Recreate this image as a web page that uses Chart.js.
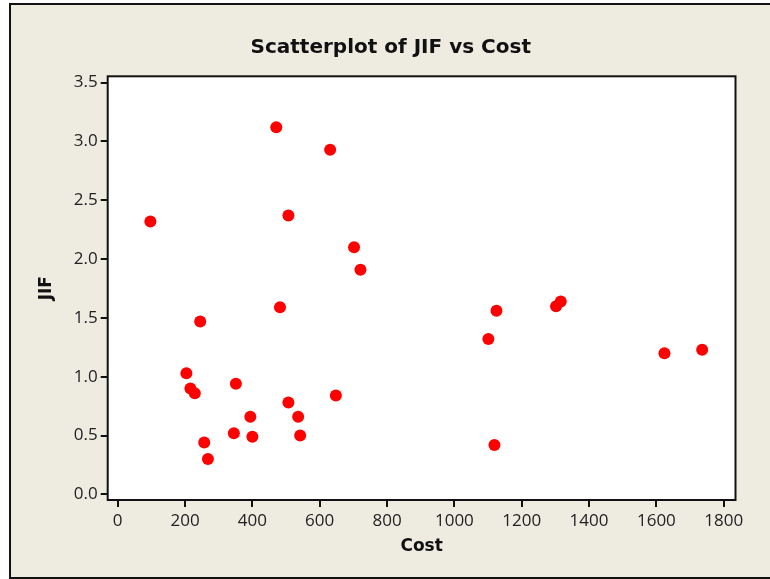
<!DOCTYPE html>
<html>
<head>
<meta charset="utf-8">
<title>Scatterplot of JIF vs Cost</title>
<script src="https://cdn.jsdelivr.net/npm/chart.js@4.4.1/dist/chart.umd.min.js"></script>
<style>
  html, body { margin: 0; padding: 0; background: #fff; overflow: hidden; }
  #panel {
    position: absolute; left: 9px; top: 3px;
    width: 764px; height: 576px; box-sizing: border-box;
    border: 2px solid #111; background: #eeebe0;
  }
  #chart { position: absolute; left: 0; top: 0; }
</style>
</head>
<body>
<div id="panel"></div>
<canvas id="chart" width="770" height="579"></canvas>
<script>
// cost and journal impact factor, one entry per journal
var costs = [471, 631, 97, 507, 702, 721, 482, 245, 204, 216, 229, 351, 648, 507,
             394, 536, 345, 400, 542, 257, 268, 1125, 1101, 1302, 1316, 1624, 1736, 1119];
var jifs = [3.12, 2.93, 2.32, 2.37, 2.10, 1.91, 1.59, 1.47, 1.03, 0.90, 0.86, 0.94, 0.84, 0.78,
            0.66, 0.66, 0.52, 0.49, 0.50, 0.44, 0.30, 1.56, 1.32, 1.60, 1.64, 1.20, 1.23, 0.42];

var costTicks = [0, 200, 400, 600, 800, 1000, 1200, 1400, 1600, 1800];
var jifTicks = [0, 0.5, 1.0, 1.5, 2.0, 2.5, 3.0, 3.5];

var points = costs.map(function(c, i) {
    return { x: c, y: jifs[i] };
});

var tickFont = { family: 'Open Sans', size: 17 };
var labelFont = { family: 'DejaVu Sans', size: 17, weight: 'bold' };

/**
 * White plot area with a black frame round it
 */
var plotFrame = {
    id: 'plotFrame',
    beforeDraw: function(chart) {
        var a = chart.chartArea, ctx = chart.ctx;
        ctx.save();
        ctx.fillStyle = '#ffffff';
        ctx.fillRect(a.left, a.top, a.right - a.left, a.bottom - a.top);
        ctx.restore();
    },
    afterDraw: function(chart) {
        var a = chart.chartArea, ctx = chart.ctx;
        ctx.save();
        ctx.strokeStyle = '#111';
        ctx.lineWidth = 2;
        ctx.strokeRect(a.left, a.top, a.right - a.left, a.bottom - a.top);
        ctx.restore();
    }
};

new Chart(document.getElementById('chart').getContext('2d'), {
    type: 'scatter',
    data: {
        datasets: [{
            label: 'JIF',
            data: points,
            backgroundColor: '#ff0000',
            borderWidth: 0,
            pointRadius: 6,
            pointHoverRadius: 6
        }]
    },
    plugins: [plotFrame],
    options: {
        responsive: false,
        animation: false,
        // title sits a little right of the canvas middle, hence the wider left pad
        layout: { padding: { left: 46, right: 34.5, top: 0, bottom: 0 } },
        plugins: {
            legend: { display: false },
            title: {
                display: true,
                text: 'Scatterplot of JIF vs Cost',
                color: '#111',
                font: { family: 'DejaVu Sans', size: 20, weight: 'bold' },
                padding: { top: 36, bottom: 16.3 }
            }
        },
        scales: {
            x: {
                type: 'linear',
                min: -29.7,
                max: 1835,
                afterBuildTicks: function(scale) {
                    scale.ticks = costTicks.map(function(v) { return { value: v }; });
                },
                afterFit: function(scale) {
                    scale.height = 79;
                },
                ticks: {
                    autoSkip: false,
                    maxRotation: 0,
                    padding: 4,
                    color: '#222',
                    font: tickFont,
                    callback: function(v) { return String(v); }
                },
                grid: { drawOnChartArea: false, tickLength: 7, color: '#111', lineWidth: 2 },
                border: { display: false },
                title: {
                    display: true,
                    text: 'Cost',
                    color: '#111',
                    font: labelFont,
                    padding: { top: 0, bottom: 22 }
                }
            },
            y: {
                type: 'linear',
                min: -0.048,
                max: 3.554,
                afterBuildTicks: function(scale) {
                    scale.ticks = jifTicks.map(function(v) { return { value: v }; });
                },
                afterFit: function(scale) {
                    scale.width = 61.7;
                },
                ticks: {
                    autoSkip: false,
                    padding: 3,
                    color: '#222',
                    font: tickFont,
                    callback: function(v) { return v.toFixed(1); }
                },
                grid: { drawOnChartArea: false, tickLength: 7, color: '#111', lineWidth: 2 },
                border: { display: false },
                title: {
                    display: true,
                    text: 'JIF',
                    color: '#111',
                    font: labelFont,
                    padding: { top: -9.5, bottom: 0 }
                }
            }
        }
    }
});
</script>
</body>
</html>
